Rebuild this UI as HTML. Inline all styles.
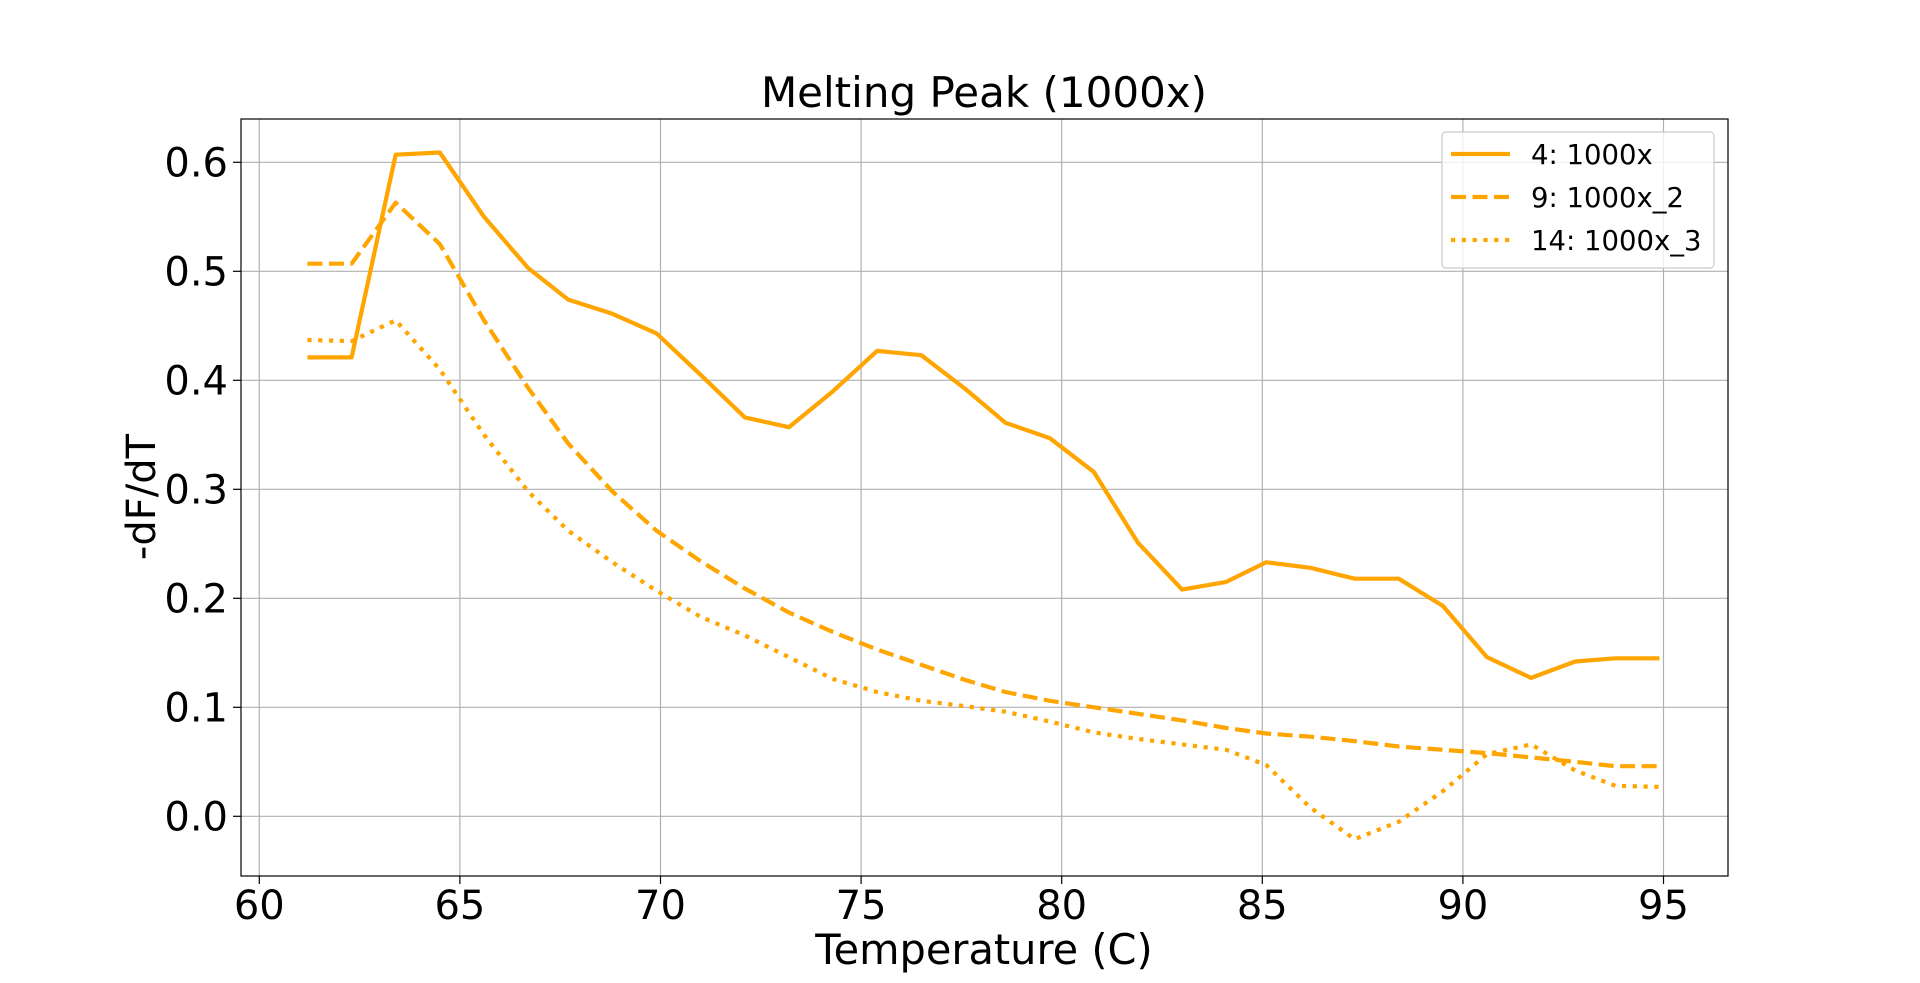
<!DOCTYPE html>
<html><head><meta charset="utf-8">
<style>
html,body{margin:0;padding:0;background:#fff;}
svg{display:block;font-family:"DejaVu Sans","Liberation Sans",sans-serif;}
</style></head>
<body>
<svg id="chart" width="1920" height="983" viewBox="0 0 1920 983" xmlns="http://www.w3.org/2000/svg">
<rect width="1920" height="983" fill="#fff"/>
<g id="grid"></g>
<g id="series"></g>
<rect x="241" y="119" width="1487" height="757" fill="none" stroke="#000" stroke-width="1.2"/>
<g id="ticks"></g>
<text x="984" y="107" font-size="42" text-anchor="middle">Melting Peak (1000x)</text>
<text x="984" y="964" font-size="41.5" text-anchor="middle">Temperature (C)</text>
<text transform="translate(155,497) rotate(-90)" font-size="40" text-anchor="middle">-dF/dT</text>
<g>
<rect x="1442" y="132" width="272" height="136" rx="4" fill="#fff" fill-opacity="0.8" stroke="#ccc" stroke-width="1.2"/>
<g>
<line x1="1451" y1="154" x2="1510" y2="154" stroke="#ffa500" stroke-width="4.2"/>
<text x="1531" y="164" font-size="27.5">4: 1000x</text></g>
<g>
<line x1="1451" y1="197" x2="1510" y2="197" stroke="#ffa500" stroke-width="4.2" stroke-dasharray="15 6.5"/>
<text x="1531" y="207" font-size="27.5">9: 1000x_2</text></g>
<g>
<line x1="1451" y1="240" x2="1510" y2="240" stroke="#ffa500" stroke-width="4.2" stroke-dasharray="4.2 6.6"/>
<text x="1531" y="250" font-size="27.5">14: 1000x_3</text></g>
</g>
</svg>
<script>
const temps = [61.2,62.3,63.4,64.5,65.6,66.7,67.7,68.8,69.9,71.0,72.1,73.2,74.3,75.4,76.5,77.6,78.6,79.7,80.8,81.9,83.0,84.1,85.1,86.2,87.3,88.4,89.5,90.6,91.7,92.8,93.8,94.9];
const series4 = [0.421,0.421,0.607,0.609,0.55,0.503,0.474,0.461,0.443,0.405,0.366,0.357,0.39,0.427,0.423,0.392,0.361,0.347,0.316,0.251,0.208,0.215,0.233,0.228,0.218,0.218,0.193,0.146,0.127,0.142,0.145,0.145];
const series9 = [0.507,0.507,0.563,0.525,0.455,0.393,0.342,0.298,0.262,0.234,0.209,0.187,0.169,0.153,0.139,0.125,0.114,0.106,0.100,0.094,0.088,0.081,0.076,0.073,0.069,0.064,0.061,0.058,0.054,0.050,0.046,0.046];
const series14 = [0.437,0.436,0.455,0.41,0.35,0.298,0.262,0.233,0.207,0.183,0.166,0.146,0.126,0.114,0.106,0.101,0.096,0.087,0.077,0.071,0.066,0.061,0.047,0.008,-0.021,-0.005,0.023,0.057,0.066,0.042,0.028,0.027];
const xTicks = [60,65,70,75,80,85,90,95];
const yTicks = [0.0,0.1,0.2,0.3,0.4,0.5,0.6];

const NS = "http://www.w3.org/2000/svg";
function X(v){ return 259.3 + (v-60)*40.12; }
function Y(v){ return 816.3 - v*1090; }
function mk(tag, attrs, parent){ const e=document.createElementNS(NS,tag); for(const k in attrs) e.setAttribute(k,attrs[k]); parent.appendChild(e); return e; }

const grid=document.getElementById('grid'), ticks=document.getElementById('ticks'), sg=document.getElementById('series');
xTicks.forEach(t=>{
  const g=mk('line',{x1:X(t),x2:X(t),y1:119,y2:876,stroke:'#b0b0b0','stroke-width':1.2},grid);
  
  
  const tk=mk('line',{x1:X(t),x2:X(t),y1:876,y2:884,stroke:'#000','stroke-width':1.2},ticks);
  
  
  const lb=mk('text',{x:X(t),y:919,'font-size':40,'text-anchor':'middle'},ticks);
  lb.textContent=String(t);
  
  
});
yTicks.forEach(t=>{
  const g=mk('line',{x1:241,x2:1728,y1:Y(t),y2:Y(t),stroke:'#b0b0b0','stroke-width':1.2},grid);
  
  
  const tk=mk('line',{x1:233,x2:241,y1:Y(t),y2:Y(t),stroke:'#000','stroke-width':1.2},ticks);
  
  
  const lb=mk('text',{x:228,y:Y(t)+14,'font-size':40,'text-anchor':'end'},ticks);
  lb.textContent=t.toFixed(1);
  
  
});
function line(vals, dash, name){
  const d=vals.map((v,i)=>(i?'L':'M')+X(temps[i]).toFixed(1)+' '+Y(v).toFixed(1)).join(' ');
  const p=mk('path',{d:d,fill:'none',stroke:'#ffa500','stroke-width':4.2,'stroke-linejoin':'round'},sg);
  if(dash) p.setAttribute('stroke-dasharray',dash);
  
  
}
line(series4,null,'line-4-1000x');
line(series9,'15 6.5','line-9-1000x-2');
line(series14,'4.2 6.6','line-14-1000x-3');
</script>
</body></html>
